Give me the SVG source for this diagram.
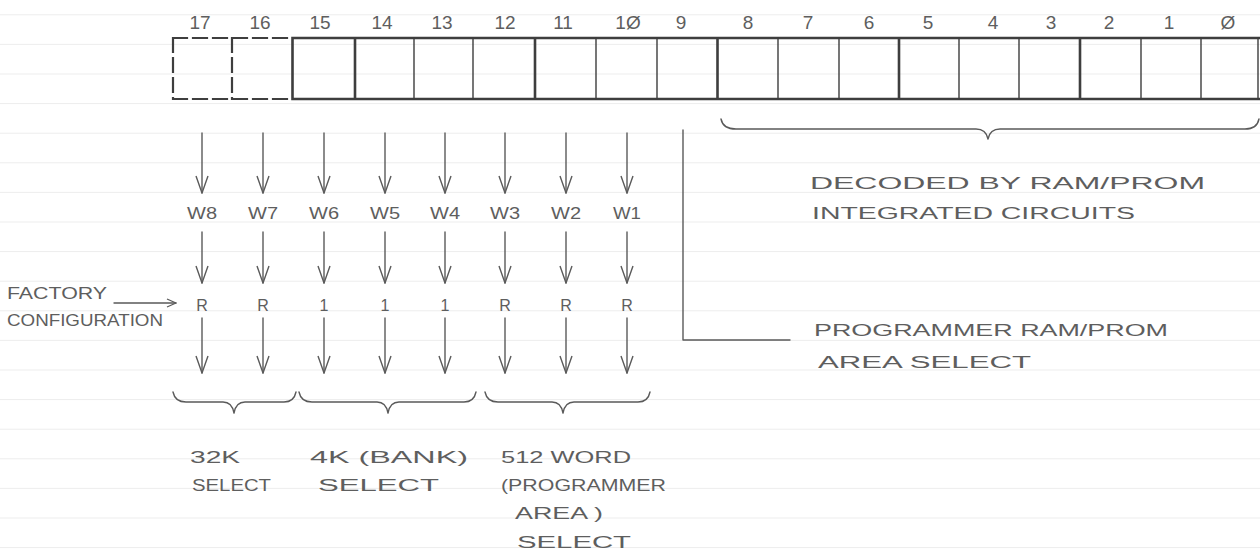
<svg xmlns="http://www.w3.org/2000/svg" width="1260" height="555" viewBox="0 0 1260 555">
<style>
  .paper{stroke:#ededed;stroke-width:1;fill:none}
  .reg{stroke:#3e3e3e;fill:none;stroke-linecap:square}
  .thick{stroke-width:2.6}
  .thin{stroke-width:1.4}
  .dash{stroke-dasharray:14 6;stroke-width:2.2}
  .num{font-family:"Liberation Sans",Arial,sans-serif;font-size:19px;fill:#5e5e5e;text-anchor:middle}
  .lbl{font-family:"Liberation Sans",Arial,sans-serif;font-size:16px;fill:#5e5e5e;text-anchor:middle}
  .note{font-family:"Liberation Sans",Arial,sans-serif;font-size:16px;fill:#5e5e5e}
  .conn{stroke:#5a5a5a;stroke-width:1.4;fill:none;stroke-linecap:round;stroke-linejoin:round}
  .arrow{marker-end:url(#vhead)}
</style>
<defs>
  <marker id="vhead" viewBox="-1 -7 19 14" refX="17" refY="0" markerWidth="19" markerHeight="14" orient="auto" markerUnits="userSpaceOnUse">
    <path d="M0,-6 L17,0 L0,6" fill="none" stroke="#5a5a5a" stroke-width="1.4" stroke-linejoin="round"/>
  </marker>
  <marker id="shead" viewBox="-1 -5 11 10" refX="9" refY="0" markerWidth="11" markerHeight="10" orient="auto" markerUnits="userSpaceOnUse">
    <path d="M0,-4 L9,0 L0,4" fill="none" stroke="#5a5a5a" stroke-width="1.3" stroke-linejoin="round"/>
  </marker>
</defs>
<rect width="1260" height="555" fill="#ffffff"/>
<g id="paper-rules" class="paper">
  <path d="M0,14.8H1260M0,44.4H1260M0,74H1260M0,103.6H1260M0,133.2H1260M0,162.8H1260M0,192.4H1260M0,222H1260M0,251.6H1260M0,281.2H1260M0,310.8H1260M0,340.4H1260M0,370H1260M0,399.6H1260M0,429.2H1260M0,458.8H1260M0,488.4H1260M0,518H1260M0,547.6H1260"/>
</g>

<g id="register">
  <g id="bit-numbers">
    <text class="num" x="200" y="29">17</text>
    <text class="num" x="260" y="29">16</text>
    <text class="num" x="320" y="29">15</text>
    <text class="num" x="382" y="29">14</text>
    <text class="num" x="442" y="29">13</text>
    <text class="num" x="505" y="29">12</text>
    <text class="num" x="563" y="29">11</text>
    <text class="num" x="628" y="29">1Ø</text>
    <text class="num" x="681" y="29">9</text>
    <text class="num" x="748" y="29">8</text>
    <text class="num" x="808" y="29">7</text>
    <text class="num" x="869" y="29">6</text>
    <text class="num" x="928" y="29">5</text>
    <text class="num" x="993" y="29">4</text>
    <text class="num" x="1051" y="29">3</text>
    <text class="num" x="1109" y="29">2</text>
    <text class="num" x="1169" y="29">1</text>
    <text class="num" x="1228" y="29">Ø</text>
  </g>
  <g id="unused-bits">
    <path class="reg dash" d="M173,38H292M173,99H292M173,38V99M232,38V99"/>
  </g>
  <g id="cells">
    <path class="reg thick" d="M292.5,38H1259M292.5,99H1259M292.5,38V99M355,38V99M535,38V99M717.5,38V99M899,38V99M1080,38V99"/>
    <path class="reg thin" d="M414,38V99M473,38V99M596,38V99M657,38V99M778,38V99M839,38V99M959,38V99M1019,38V99M1141,38V99M1201,38V99M1258,38V99"/>
  </g>
</g>

<g id="col-w8"><text class="lbl" x="202" y="219" textLength="30" lengthAdjust="spacingAndGlyphs">W8</text><text class="lbl" x="202" y="311">R</text></g>
<g id="col-w7"><text class="lbl" x="263" y="219" textLength="30" lengthAdjust="spacingAndGlyphs">W7</text><text class="lbl" x="263" y="311">R</text></g>
<g id="col-w6"><text class="lbl" x="324" y="219" textLength="30" lengthAdjust="spacingAndGlyphs">W6</text><text class="lbl" x="324" y="311">1</text></g>
<g id="col-w5"><text class="lbl" x="385" y="219" textLength="30" lengthAdjust="spacingAndGlyphs">W5</text><text class="lbl" x="385" y="311">1</text></g>
<g id="col-w4"><text class="lbl" x="445" y="219" textLength="30" lengthAdjust="spacingAndGlyphs">W4</text><text class="lbl" x="445" y="311">1</text></g>
<g id="col-w3"><text class="lbl" x="505" y="219" textLength="30" lengthAdjust="spacingAndGlyphs">W3</text><text class="lbl" x="505" y="311">R</text></g>
<g id="col-w2"><text class="lbl" x="566" y="219" textLength="30" lengthAdjust="spacingAndGlyphs">W2</text><text class="lbl" x="566" y="311">R</text></g>
<g id="col-w1"><text class="lbl" x="627" y="219" textLength="28" lengthAdjust="spacingAndGlyphs">W1</text><text class="lbl" x="627" y="311">R</text></g>

<g id="factory-note">
  <text class="note" x="7" y="299" font-size="14" textLength="100" lengthAdjust="spacingAndGlyphs">FACTORY</text>
  <text class="note" x="7" y="326" font-size="14" textLength="156" lengthAdjust="spacingAndGlyphs">CONFIGURATION</text>
</g>

<g id="decoded-note">
  <text class="note" x="810" y="189" font-size="18" textLength="395" lengthAdjust="spacingAndGlyphs">DECODED BY RAM/PROM</text>
  <text class="note" x="812" y="219" font-size="18" textLength="323" lengthAdjust="spacingAndGlyphs">INTEGRATED CIRCUITS</text>
</g>

<g id="programmer-note">
  <text class="note" x="814" y="336" font-size="17" textLength="354" lengthAdjust="spacingAndGlyphs">PROGRAMMER RAM/PROM</text>
  <text class="note" x="818" y="368" font-size="17" textLength="213" lengthAdjust="spacingAndGlyphs">AREA SELECT</text>
</g>

<g id="select-32k">
  <text class="note" x="190" y="463" textLength="50" lengthAdjust="spacingAndGlyphs">32K</text>
  <text class="note" x="192" y="491" textLength="79" lengthAdjust="spacingAndGlyphs">SELECT</text>
</g>
<g id="select-4k">
  <text class="note" x="310" y="463" textLength="158" lengthAdjust="spacingAndGlyphs">4K (BANK)</text>
  <text class="note" x="318" y="491" textLength="121" lengthAdjust="spacingAndGlyphs">SELECT</text>
</g>
<g id="select-512">
  <text class="note" x="501" y="463" textLength="130" lengthAdjust="spacingAndGlyphs">512 WORD</text>
  <text class="note" x="501" y="491" textLength="165" lengthAdjust="spacingAndGlyphs">(PROGRAMMER</text>
  <text class="note" x="515" y="519" textLength="88" lengthAdjust="spacingAndGlyphs">AREA )</text>
  <text class="note" x="517" y="548" textLength="114" lengthAdjust="spacingAndGlyphs">SELECT</text>
</g>

<g id="connectors" class="conn">
  <path class="arrow" d="M202,133V193"/>
  <path class="arrow" d="M263,133V193"/>
  <path class="arrow" d="M324,133V193"/>
  <path class="arrow" d="M385,133V193"/>
  <path class="arrow" d="M445,133V193"/>
  <path class="arrow" d="M505,133V193"/>
  <path class="arrow" d="M566,133V193"/>
  <path class="arrow" d="M627,133V193"/>
  <path class="arrow" d="M202,232V283"/>
  <path class="arrow" d="M263,232V283"/>
  <path class="arrow" d="M324,232V283"/>
  <path class="arrow" d="M385,232V283"/>
  <path class="arrow" d="M445,232V283"/>
  <path class="arrow" d="M505,232V283"/>
  <path class="arrow" d="M566,232V283"/>
  <path class="arrow" d="M627,232V283"/>
  <path class="arrow" d="M202,318V373"/>
  <path class="arrow" d="M263,318V373"/>
  <path class="arrow" d="M324,318V373"/>
  <path class="arrow" d="M385,318V373"/>
  <path class="arrow" d="M445,318V373"/>
  <path class="arrow" d="M505,318V373"/>
  <path class="arrow" d="M566,318V373"/>
  <path class="arrow" d="M627,318V373"/>
  <path d="M114,303H176" marker-end="url(#shead)"/>
  <path d="M173,392Q175,402 186,402L223,402Q232,402 234,413Q236,402 245,402L284,402Q294,402 296,392"/>
  <path d="M299,392Q301,402 312,402L377,402Q386,402 388,413Q390,402 399,402L464,402Q474,402 476,392"/>
  <path d="M485,392Q487,402 498,402L552,402Q561,402 563,413Q565,402 574,402L638,402Q648,402 650,392"/>
  <path d="M721,119Q723,129 736,129L976,129Q986,129 988,139Q990,129 1000,129L1245,129Q1257,129 1259,119"/>
  <path d="M683,130V340H790"/>
</g>
</svg>
